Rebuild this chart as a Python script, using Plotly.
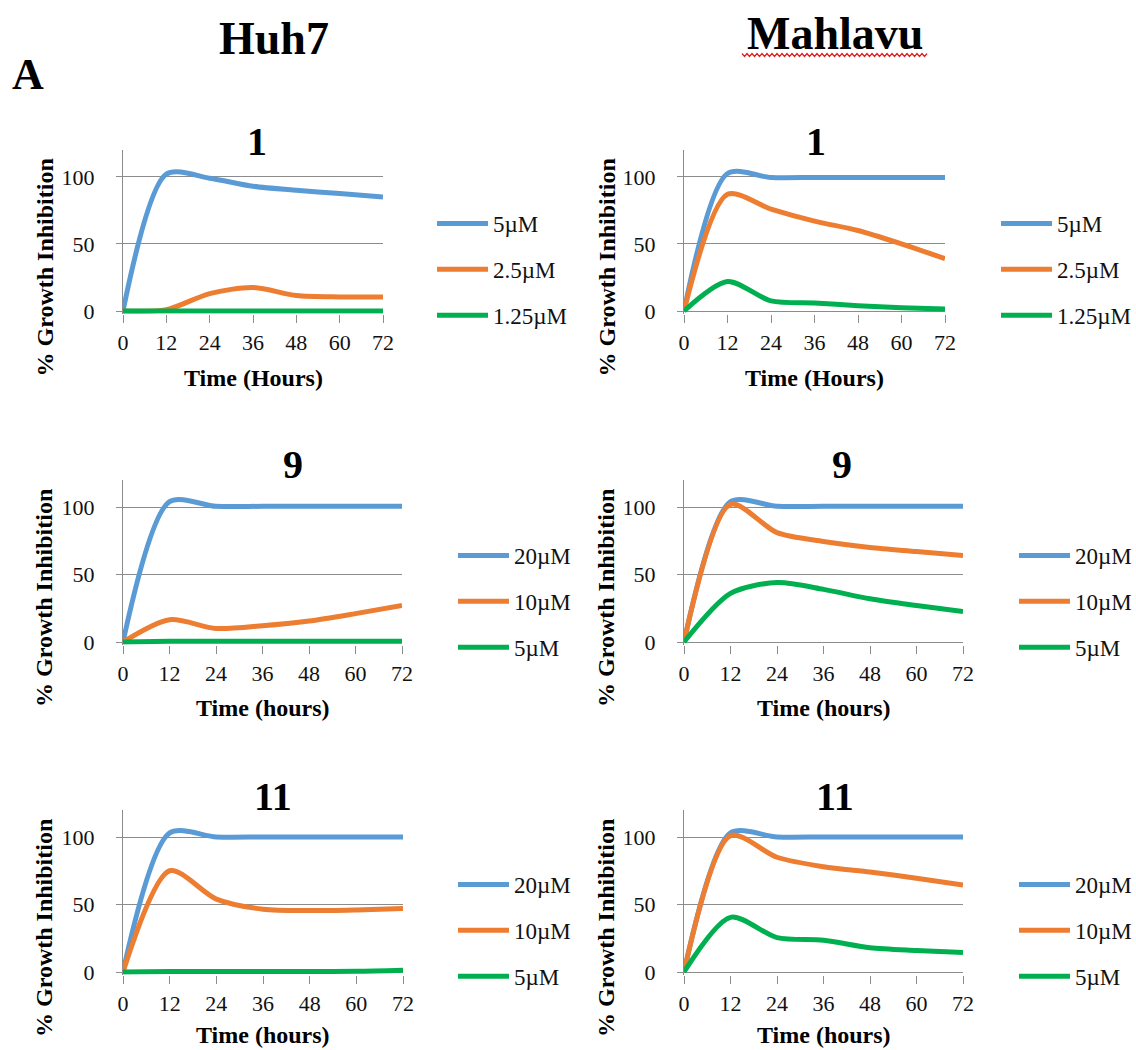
import plotly.graph_objects as go

W, H = 1136, 1050

hours = [0, 12, 24, 36, 48, 60, 72]
x_tick_vals = [0, 12, 24, 36, 48, 60, 72]
y_tick_vals = [0, 50, 100]

column_titles = ["Huh7", "Mahlavu"]
panel_label = "A"
compound_titles = ["1", "9", "11"]
x_titles = ["Time (Hours)", "Time (hours)", "Time (hours)"]
y_title = "% Growth Inhibition"

doses_1 = ["5µM", "2.5µM", "1.25µM"]
doses_9 = ["20µM", "10µM", "5µM"]
doses_11 = ["20µM", "10µM", "5µM"]

# Huh7 - compound 1
huh7_c1_high = [0, 102, 99, 93, 90, 87.5, 85]
huh7_c1_mid = [0, 1, 13, 17.5, 11.5, 10.5, 10.5]
huh7_c1_low = [0, 0, 0, 0, 0, 0, 0]
# Mahlavu - compound 1
mahl_c1_high = [0, 102.5, 99.5, 99.5, 99.5, 99.5, 99.5]
mahl_c1_mid = [0, 87, 76, 67, 60, 50, 39]
mahl_c1_low = [0, 22, 7.5, 6, 4, 2.5, 1.5]
# Huh7 - compound 9
huh7_c9_high = [0, 104, 100.5, 100.5, 100.5, 100.5, 100.5]
huh7_c9_mid = [0, 16.5, 10, 12, 15.5, 21, 27]
huh7_c9_low = [0, 0.5, 0.5, 0.5, 0.5, 0.5, 0.5]
# Mahlavu - compound 9
mahl_c9_high = [0, 104, 100.5, 100.5, 100.5, 100.5, 100.5]
mahl_c9_mid = [0, 102, 81, 74.5, 70, 67, 64]
mahl_c9_low = [0, 36, 44, 39, 32, 27, 22.5]
# Huh7 - compound 11
huh7_c11_high = [0, 103, 100, 100, 100, 100, 100]
huh7_c11_mid = [0, 75, 54, 46.5, 45.5, 46, 47]
huh7_c11_low = [0, 0.3, 0.3, 0.3, 0.3, 0.5, 1.3]
# Mahlavu - compound 11
mahl_c11_high = [0, 103, 100, 100, 100, 100, 100]
mahl_c11_mid = [0, 101, 85, 78, 74, 69.5, 64.5]
mahl_c11_low = [0, 40.5, 25.5, 23.5, 18, 16, 14.5]

colors = ["#5B9BD5", "#ED7D31", "#00B050"]
GRID = "#8C8C8C"
SERIF = "Liberation Serif, Times New Roman, serif"

panels = [
    (0, 0, doses_1, [huh7_c1_high, huh7_c1_mid, huh7_c1_low]),
    (0, 1, doses_1, [mahl_c1_high, mahl_c1_mid, mahl_c1_low]),
    (1, 0, doses_9, [huh7_c9_high, huh7_c9_mid, huh7_c9_low]),
    (1, 1, doses_9, [mahl_c9_high, mahl_c9_mid, mahl_c9_low]),
    (2, 0, doses_11, [huh7_c11_high, huh7_c11_mid, huh7_c11_low]),
    (2, 1, doses_11, [mahl_c11_high, mahl_c11_mid, mahl_c11_low]),
]

col_px = {(0, 0): (123, 383), (0, 1): (684, 945),
          (1, 0): (123, 402), (1, 1): (684, 963),
          (2, 0): (123, 403), (2, 1): (684, 963)}
row_px = {0: (150, 311), 1: (480, 642), 2: (810, 972)}
xtitle_dy = {0: 67, 1: 66, 2: 63}
title_px = {(0, 0): (257, 141), (0, 1): (816, 141),
            (1, 0): (293, 464), (1, 1): (842, 464),
            (2, 0): (273, 796), (2, 1): (835, 796)}
legend_px = {(0, 0): (432, 202), (0, 1): (996, 202),
             (1, 0): (453, 534), (1, 1): (1014, 534),
             (2, 0): (453, 863), (2, 1): (1014, 863)}

Y_LO, Y_HI = -2.0, 120.0

def fx(px):
    return px / W

def fy(py):
    return 1 - py / H

fig = go.Figure()
annotations = []

for i, (r, c, doses, series) in enumerate(panels):
    idx = i + 1
    xa = "x" if idx == 1 else f"x{idx}"
    ya = "y" if idx == 1 else f"y{idx}"
    lg = "legend" if idx == 1 else f"legend{idx}"
    for k, (name, vals) in enumerate(zip(doses, series)):
        fig.add_trace(go.Scatter(
            x=hours, y=vals, name=name, mode="lines",
            line=dict(color=colors[k], width=5, shape="spline", smoothing=0.8),
            xaxis=xa, yaxis=ya, legend=lg, legendgroup=f"{idx}-{k}",
            hoverinfo="skip"))
    left, right = col_px[(r, c)]
    top, zero = row_px[r]
    pxu = (zero - top) / 120.0
    bottom = zero + (-Y_LO) * pxu
    xkey = "xaxis" if idx == 1 else f"xaxis{idx}"
    ykey = "yaxis" if idx == 1 else f"yaxis{idx}"
    lx, ly = legend_px[(r, c)]
    fig.update_layout(**{
        xkey: dict(domain=[fx(left), fx(right)], range=[0, 72], anchor=ya,
                   tickvals=x_tick_vals, ticks="outside", ticklen=8,
                   tickcolor=GRID, tickwidth=1, showline=False, showgrid=False,
                   zeroline=False, tickfont=dict(family=SERIF, size=22, color="#111"),
                   ticklabelstandoff=1, fixedrange=True, automargin=False),
        ykey: dict(domain=[fy(bottom), fy(top)], range=[Y_LO, Y_HI], anchor=xa,
                   tickvals=y_tick_vals, ticks="outside", ticklen=6,
                   tickcolor=GRID, tickwidth=1, showline=True, linecolor=GRID,
                   linewidth=1, showgrid=True, gridcolor=GRID, gridwidth=1,
                   zeroline=True, zerolinecolor=GRID, zerolinewidth=1,
                   tickfont=dict(family=SERIF, size=22, color="#111"),
                   ticklabelstandoff=17, fixedrange=True, automargin=False),
        lg: dict(x=fx(lx), y=fy(ly),
                 xanchor="left", yanchor="top", traceorder="grouped",
                 tracegroupgap=13, itemwidth=51, bgcolor="rgba(0,0,0,0)",
                 font=dict(family=SERIF, size=23, color="#111")),
    })
    tx, ty = title_px[(r, c)]
    annotations.append(dict(text=f"<b>{compound_titles[r]}</b>", x=fx(tx), y=fy(ty),
                            xref="paper", yref="paper", showarrow=False,
                            xanchor="center", yanchor="middle",
                            font=dict(family=SERIF, size=40, color="#000")))
    annotations.append(dict(text=f"<b>{x_titles[r]}</b>", x=fx((left + right) / 2),
                            y=fy(zero + xtitle_dy[r]), xref="paper", yref="paper",
                            showarrow=False, xanchor="center", yanchor="middle",
                            font=dict(family=SERIF, size=24, color="#000")))
    annotations.append(dict(text=f"<b>{y_title}</b>",
                            x=fx(44 if c == 0 else 606),
                            y=fy((top + zero) / 2 + 37), xref="paper", yref="paper",
                            showarrow=False, textangle=-90,
                            xanchor="center", yanchor="middle",
                            font=dict(family=SERIF, size=24, color="#000")))

annotations.append(dict(text=f"<b>{column_titles[0]}</b>", x=fx(274), y=fy(38),
                        xref="paper", yref="paper", showarrow=False,
                        xanchor="center", yanchor="middle",
                        font=dict(family=SERIF, size=46, color="#000")))
annotations.append(dict(text=f"<b>{column_titles[1]}</b>", x=fx(835), y=fy(33),
                        xref="paper", yref="paper", showarrow=False,
                        xanchor="center", yanchor="middle",
                        font=dict(family=SERIF, size=46, color="#000")))
annotations.append(dict(text=f"<b>{panel_label}</b>", x=fx(28), y=fy(74),
                        xref="paper", yref="paper", showarrow=False,
                        xanchor="center", yanchor="middle",
                        font=dict(family=SERIF, size=44, color="#000")))

# red wavy spell-check underline under "Mahlavu"
wx0, wx1, wy = 742, 928, 55
pts = []
xx = wx0
up = True
while xx <= wx1:
    pts.append((xx, wy - 1.5 if up else wy + 1.5))
    xx += 2.5
    up = not up
path = "M " + " L ".join(f"{fx(a):.5f},{fy(b):.5f}" for a, b in pts)
shapes = [dict(type="path", path=path, xref="paper", yref="paper",
               line=dict(color="#E02020", width=1.2))]

fig.update_layout(width=W, height=H,
                  margin=dict(l=0, r=0, t=0, b=0, autoexpand=False),
                  paper_bgcolor="white", plot_bgcolor="white",
                  annotations=annotations, shapes=shapes, showlegend=True)

fig.write_html("out.html", config={"displayModeBar": False},
               post_script="document.body.style.margin='0';document.body.style.overflow='hidden';")
